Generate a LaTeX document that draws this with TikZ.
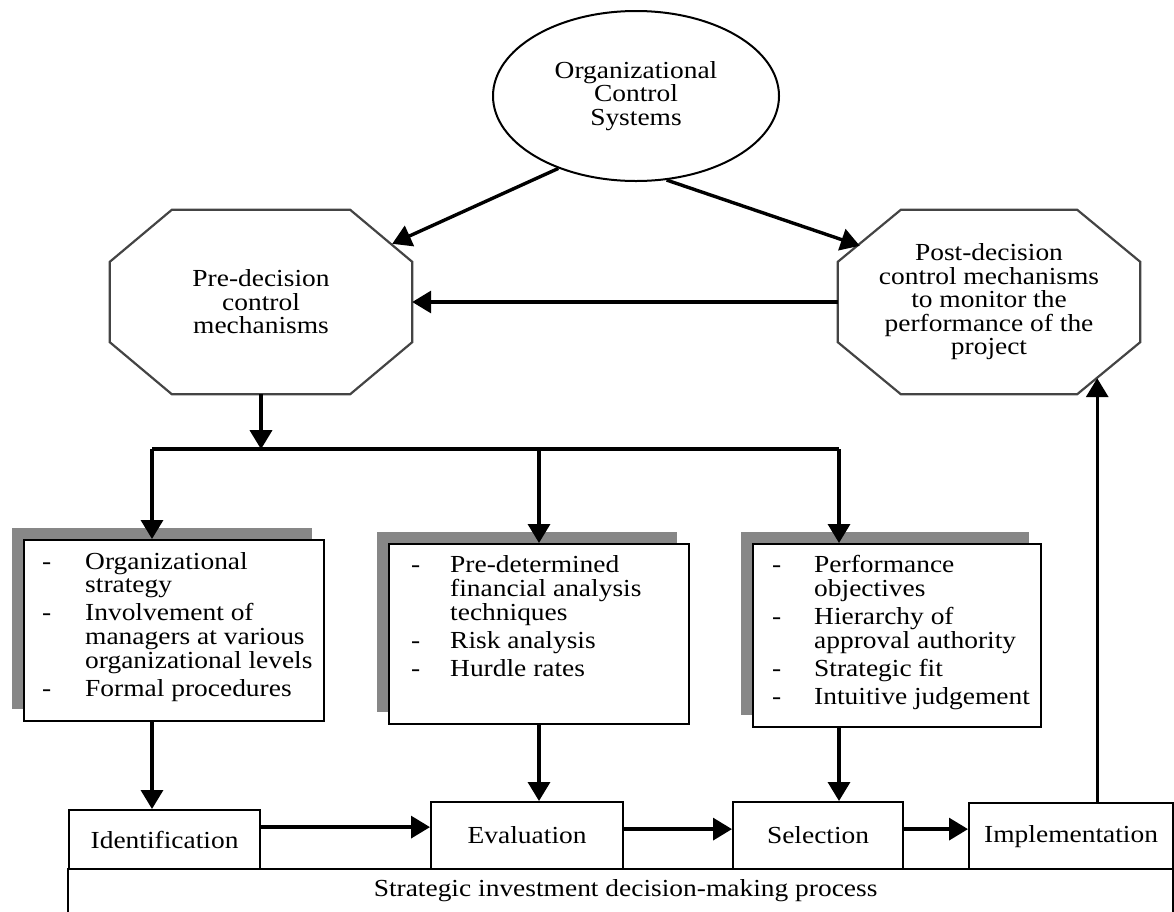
\documentclass[tikz,border=0pt]{standalone}
\usepackage{fontspec}
\setmainfont{Liberation Serif}[FakeStretch=1.12]
\usetikzlibrary{arrows.meta,calc,shadows,shapes.geometric}
\definecolor{shadowgray}{HTML}{878787}
\definecolor{octgray}{HTML}{444444}
\newcommand\octo[3]{%
  \draw[octline] ($(#1.north west)+(#2,0)$) -- ($(#1.north east)+(-#2,0)$)
    -- ($(#1.north east)+(0,#3)$) -- ($(#1.south east)+(0,-#3)$)
    -- ($(#1.south east)+(-#2,0)$) -- ($(#1.south west)+(#2,0)$)
    -- ($(#1.south west)+(0,-#3)$) -- ($(#1.north west)+(0,#3)$) -- cycle;}
\begin{document}
\begin{tikzpicture}[x=1pt,y=-1pt,
  every node/.style={font=\fontsize{24.5}{23.5}\selectfont, inner sep=0pt},
  arr/.style={line width=3.4pt, -{Triangle[length=19pt,width=22pt]}},
  plain/.style={line width=3.4pt},
  octline/.style={line width=2.2pt, draw=octgray},
  box/.style={draw=black, line width=2.2pt, fill=white, rectangle, anchor=north west},
  shbox/.style={box, general shadow={fill=shadowgray, shadow xshift=-12pt, shadow yshift=12pt}},
  octbox/.style={rectangle, minimum width=302pt, minimum height=184pt, align=center}
]
\clip (0,0) rectangle (1174,911);

% top ellipse
\node[draw, ellipse, line width=2pt, minimum width=286pt, minimum height=170pt, align=center] (ocs) at (636,96) {Organizational\\Control\\Systems};

% octagons
\node[octbox] (pre) at (261,302) {Pre-decision\\control\\mechanisms};
\octo{pre}{62}{52}
\node[octbox] (post) at (989,302) {Post-decision\\control mechanisms\\to monitor the\\performance of the\\project};
\octo{post}{63}{52}

\coordinate (preA) at ($(pre.north east)+(-20,34)$);
\coordinate (postA) at ($(post.north west)+(22,36)$);
\coordinate (postB) at ($(post.south east)+(-43,-16)$);

\draw[arr] (ocs.223.5) -- (preA);
\draw[arr] (ocs.290.5) -- (postA);
\draw[arr] (post.west) -- (pre.east);

% shadow boxes
\node[shbox, minimum width=300pt, minimum height=181pt] (b1) at (23,539) {};
\node[shbox, minimum width=300pt, minimum height=180pt] (b2) at (388,543) {};
\node[shbox, minimum width=288pt, minimum height=183pt] (b3) at (752,543) {};

\node[anchor=base west] (t1) at ($(b1.north west)+(19,30)$) {\begin{tabular}[t]{@{}p{43pt}@{}l@{}}
- & Organizational\\
  & strategy\\[4pt]
- & Involvement of\\
  & managers at various\\
  & organizational levels\\[4pt]
- & Formal procedures
\end{tabular}};
\node[anchor=base west] (t2) at ($(b2.north west)+(23,29)$) {\begin{tabular}[t]{@{}p{39pt}@{}l@{}}
- & Pre-determined\\
  & financial analysis\\
  & techniques\\[4pt]
- & Risk analysis\\[4pt]
- & Hurdle rates
\end{tabular}};
\node[anchor=base west] (t3) at ($(b3.north west)+(20,29)$) {\begin{tabular}[t]{@{}p{42pt}@{}l@{}}
- & Performance\\
  & objectives\\[4pt]
- & Hierarchy of\\
  & approval authority\\[4pt]
- & Strategic fit\\[4pt]
- & Intuitive judgement
\end{tabular}};

% junction
\coordinate (j0) at ($(pre.south)+(0,55)$);
\coordinate (j1) at (152,449);
\coordinate (j2) at (539,449);
\coordinate (j3) at (839,449);
\draw[arr] (pre.south) -- (j0);
\draw[plain] (j1) -- (j3);
\draw[arr] (j1) -- (j1 |- b1.north);
\draw[arr] (j2) -- (j2 |- b2.north);
\draw[arr] (j3) -- (j3 |- b3.north);

% process
\node[box, minimum width=1105pt, minimum height=70pt] (proc) at (67,868) {};
\node (proclbl) at ($(proc.north)+(5,23)$) {Strategic investment decision-making process};
\node[box, minimum width=191pt, minimum height=59pt] (ident) at (68,809) {Identification};
\node[box, minimum width=192pt, minimum height=67pt] (eval) at (430,801) {Evaluation};
\node[box, minimum width=170pt, minimum height=67pt] (sel) at (732,801) {Selection};
\node[box, minimum width=204pt, minimum height=66pt] (impl) at (968,802) {Implementation};

\draw[arr] (b1.south -| j1) -- (j1 |- ident.north);
\draw[arr] (b2.south -| j2) -- (j2 |- eval.north);
\draw[arr] (b3.south -| j3) -- (j3 |- sel.north);

\draw[arr] ([yshift=12.5pt]ident.east) -- ([yshift=12.5pt]ident.east -| eval.west);
\draw[arr] ([yshift=6.5pt]eval.east) -- ([yshift=6.5pt]eval.east -| sel.west);
\draw[arr] ([yshift=6.5pt]sel.east) -- ([yshift=6.5pt]sel.east -| impl.west);
\draw[arr] (impl.north -| postB) -- (postB);
\end{tikzpicture}
\end{document}
